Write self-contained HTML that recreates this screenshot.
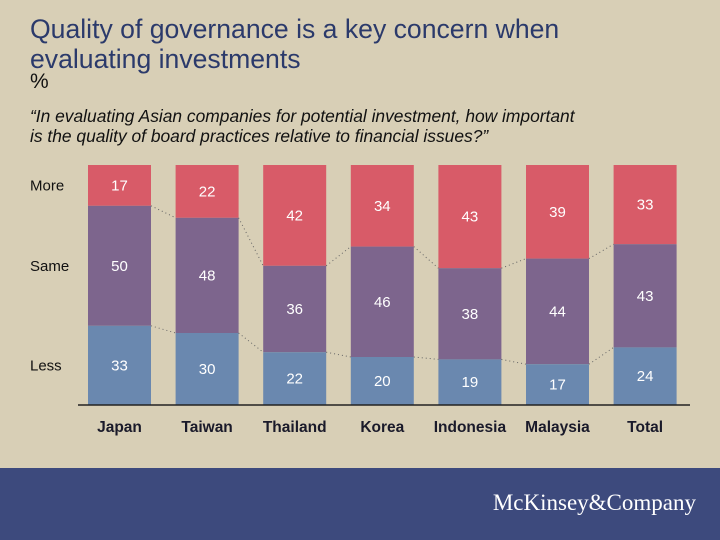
<!DOCTYPE html>
<html><head><meta charset="utf-8"><style>
body{margin:0;width:720px;height:540px;background:#d8cfb6;font-family:"Liberation Sans",sans-serif;overflow:hidden;position:relative}
.t{position:absolute;left:30px;color:#2b3a6b}
</style></head><body>
<div class="t" style="top:14px;font-size:26.6px;line-height:30px">Quality of governance is a key concern when<br>evaluating investments</div>
<div class="t" style="top:70px;font-size:21px;color:#111">%</div>
<div class="t" style="top:106px;font-size:17.4px;line-height:20px;font-style:italic;color:#111">“In evaluating Asian companies for potential investment, how important<br>is the quality of board practices relative to financial issues?”</div>
<svg width="720" height="540" style="position:absolute;left:0;top:0" id="chart"></svg>
<div style="position:absolute;left:0;top:468px;width:720px;height:72px;background:#3d4a7d"></div>
<div style="position:absolute;right:24px;top:490px;color:#fff;font-family:'Liberation Serif',serif;font-size:23px">McKinsey&amp;Company</div>
<script>
const categories=["Japan","Taiwan","Thailand","Korea","Indonesia","Malaysia","Total"];
const more=[17,22,42,34,43,39,33];
const same=[50,48,36,46,38,44,43];
const less=[33,30,22,20,19,17,24];
const seriesNames=["More","Same","Less"];
const svg=document.getElementById('chart');
const NS='http://www.w3.org/2000/svg';
const top0=165,h=240,x0=88,step=87.6,bw=63;
const y=v=>top0+v/100*h;
const xb=i=>x0+i*step;
function mk(t,a,p){const e=document.createElementNS(NS,t);for(const k in a)e.setAttribute(k,a[k]);(p||svg).appendChild(e);return e;}
const cols=["#d85b68","#7d658d","#6a88af"];
const series=[more,same,less];
const bounds=[];
categories.forEach((c,i)=>{
  let acc=0;const b=[0];
  series.forEach((s,k)=>{
    const r=mk('rect',{x:xb(i),y:y(acc),width:bw,height:y(acc+s[i])-y(acc),fill:cols[k]});
    
    
    const tx=mk('text',{x:xb(i)+bw/2,y:(y(acc)+y(acc+s[i]))/2+5,'text-anchor':'middle','font-size':15,fill:'#fff'});
    tx.textContent=s[i];
    
    
    acc+=s[i];b.push(acc);
  });
  bounds.push(b);
  const cl=mk('text',{x:xb(i)+bw/2,y:432,'text-anchor':'middle','font-size':15.5,'font-weight':'bold',fill:'#1a1a2a'});
  cl.textContent=c;
  
  
});
for(let i=0;i<categories.length-1;i++){
  [1,2].forEach(k=>{
    const l=mk('line',{x1:xb(i)+bw,y1:y(bounds[i][k]),x2:xb(i+1),y2:y(bounds[i+1][k]),stroke:'#666','stroke-dasharray':'1 3','stroke-width':1});
    
    
  });
}
const ax=mk('line',{x1:78,y1:405,x2:690,y2:405,stroke:'#222','stroke-width':1.5});


seriesNames.forEach((n,k)=>{
  const s=series[k][0];const a=bounds[0][k];
  const t=mk('text',{x:30,y:(y(a)+y(a+s))/2+5,'font-size':15,fill:'#111'});
  t.textContent=n;
  
  
});
</script>
</body></html>
